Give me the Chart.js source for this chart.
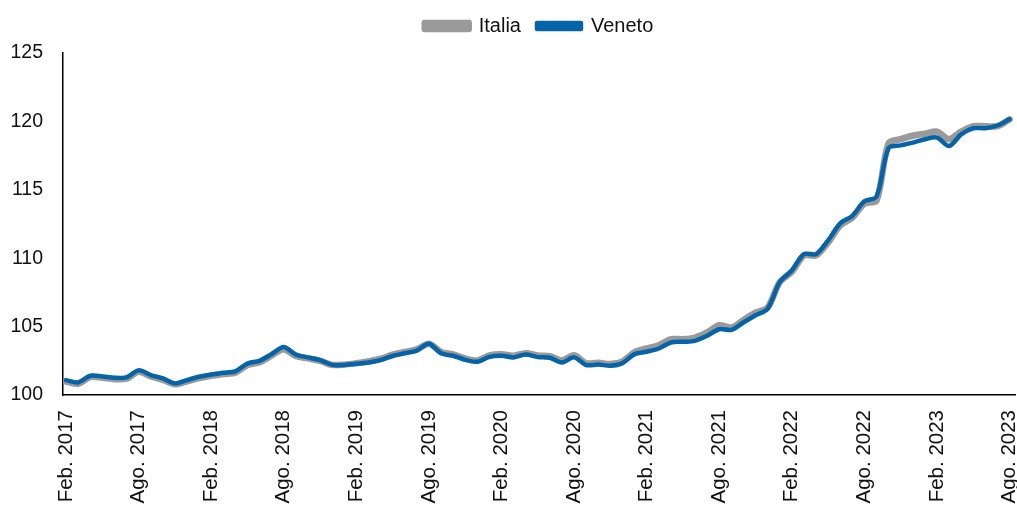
<!DOCTYPE html>
<html>
<head>
<meta charset="utf-8">
<script src="https://cdn.jsdelivr.net/npm/chart.js@4.4.0/dist/chart.umd.min.js"></script>
<style>
  html, body { margin: 0; padding: 0; background: #ffffff; }
  #wrap { width: 1017px; height: 510px; }
</style>
</head>
<body>
<div id="wrap"><canvas id="c" width="1017" height="510"></canvas></div>
<script>
const months = [
  "Feb. 2017","Mar. 2017","Apr. 2017","Mag. 2017","Giu. 2017","Lug. 2017","Ago. 2017","Set. 2017","Ott. 2017","Nov. 2017","Dic. 2017","Gen. 2018",
  "Feb. 2018","Mar. 2018","Apr. 2018","Mag. 2018","Giu. 2018","Lug. 2018","Ago. 2018","Set. 2018","Ott. 2018","Nov. 2018","Dic. 2018","Gen. 2019",
  "Feb. 2019","Mar. 2019","Apr. 2019","Mag. 2019","Giu. 2019","Lug. 2019","Ago. 2019","Set. 2019","Ott. 2019","Nov. 2019","Dic. 2019","Gen. 2020",
  "Feb. 2020","Mar. 2020","Apr. 2020","Mag. 2020","Giu. 2020","Lug. 2020","Ago. 2020","Set. 2020","Ott. 2020","Nov. 2020","Dic. 2020","Gen. 2021",
  "Feb. 2021","Mar. 2021","Apr. 2021","Mag. 2021","Giu. 2021","Lug. 2021","Ago. 2021","Set. 2021","Ott. 2021","Nov. 2021","Dic. 2021","Gen. 2022",
  "Feb. 2022","Mar. 2022","Apr. 2022","Mag. 2022","Giu. 2022","Lug. 2022","Ago. 2022","Set. 2022","Ott. 2022","Nov. 2022","Dic. 2022","Gen. 2023",
  "Feb. 2023","Mar. 2023","Apr. 2023","Mag. 2023","Giu. 2023","Lug. 2023","Ago. 2023"
];
const tickMonths = ["Feb. 2017","Ago. 2017","Feb. 2018","Ago. 2018","Feb. 2019","Ago. 2019","Feb. 2020","Ago. 2020","Feb. 2021","Ago. 2021","Feb. 2022","Ago. 2022","Feb. 2023","Ago. 2023"];
const yTicks = [100, 105, 110, 115, 120, 125];

const veneto = [
  101.09,100.92,101.41,101.36,101.26,101.29,101.80,101.46,101.21,100.85,101.09,101.33,
  101.50,101.63,101.73,102.30,102.50,103.00,103.50,102.95,102.75,102.55,102.20,102.20,
  102.28,102.38,102.55,102.85,103.05,103.25,103.75,103.05,102.87,102.57,102.43,102.79,
  102.87,102.75,102.96,102.77,102.72,102.38,102.75,102.19,102.23,102.14,102.33,102.99,
  103.16,103.40,103.84,103.89,103.96,104.33,104.81,104.76,105.30,105.83,106.30,108.25,
  109.10,110.30,110.30,111.30,112.55,113.10,114.16,114.50,118.05,118.25,118.45,118.70,
  118.82,118.20,119.05,119.50,119.50,119.70,120.15
];
const italia = [
  100.99,100.82,101.31,101.26,101.16,101.19,101.70,101.36,101.11,100.78,101.00,101.23,
  101.40,101.53,101.63,102.20,102.40,102.88,103.35,102.85,102.68,102.50,102.20,102.22,
  102.32,102.45,102.65,102.95,103.15,103.33,103.75,103.15,102.97,102.67,102.53,102.89,
  102.97,102.87,103.06,102.89,102.84,102.53,102.90,102.32,102.35,102.27,102.45,103.14,
  103.40,103.64,104.08,104.08,104.20,104.57,105.10,104.93,105.49,106.02,106.39,108.25,
  109.00,110.20,110.20,111.15,112.40,112.95,114.00,114.20,118.40,118.70,118.95,119.10,
  119.25,118.70,119.25,119.65,119.65,119.65,120.15
];

const toPoints = arr => arr.map((v, i) => ({ x: i, y: v }));
const tickIndex = tickMonths.map(m => months.indexOf(m));
const FONT = "'Liberation Sans', Arial, sans-serif";

const legendGap = {
  id: 'legendGap',
  beforeInit(chart) {
    const orig = chart.legend.fit;
    chart.legend.fit = function () { orig.call(this); this.height += 7; };
  }
};

new Chart(document.getElementById('c'), {
  type: 'line',
  plugins: [legendGap],
  data: {
    datasets: [
      { label: 'Veneto', data: toPoints(veneto), borderColor: '#0564A8', backgroundColor: '#0564A8',
        borderWidth: 4.5, pointRadius: 0, tension: 0.3, borderCapStyle: 'round', borderJoinStyle: 'round' },
      { label: 'Italia', data: toPoints(italia), borderColor: '#9A9A9A', backgroundColor: '#9A9A9A',
        borderWidth: 6.5, pointRadius: 0, tension: 0.3, borderCapStyle: 'round', borderJoinStyle: 'round' }
    ]
  },
  options: {
    responsive: false,
    animation: false,
    devicePixelRatio: 1,
    layout: { padding: { left: 10, right: 2, top: 0, bottom: 0 } },
    plugins: {
      legend: {
        position: 'top',
        fullSize: false,
        reverse: true,
        labels: {
          boxWidth: 44, boxHeight: 6, padding: 16,
          color: '#111', font: { family: FONT, size: 20 }
        }
      },
      tooltip: { enabled: false }
    },
    scales: {
      x: {
        type: 'linear',
        min: -0.25, max: 78.45,
        grid: { display: false, drawTicks: true, tickLength: 15 },
        border: { display: true, color: '#000', width: 1.5 },
        afterBuildTicks: s => { s.ticks = tickIndex.map(v => ({ value: v })); },
        afterFit: s => { s.height = 115; s.paddingLeft = 0; s.paddingRight = 0; },
        ticks: {
          autoSkip: false, minRotation: 90, maxRotation: 90, padding: 0,
          color: '#111', font: { family: FONT, size: 20.5 },
          callback: v => months[v]
        }
      },
      y: {
        min: 100, max: 125,
        grid: { display: false, drawTicks: true, tickLength: 8 },
        border: { display: true, color: '#000', width: 1.5 },
        afterBuildTicks: s => { s.ticks = yTicks.map(v => ({ value: v })); },
        afterFit: s => { s.width = 53; },
        ticks: { padding: 12, color: '#111', font: { family: FONT, size: 19.5 } }
      }
    }
  }
});
</script>
</body>
</html>
